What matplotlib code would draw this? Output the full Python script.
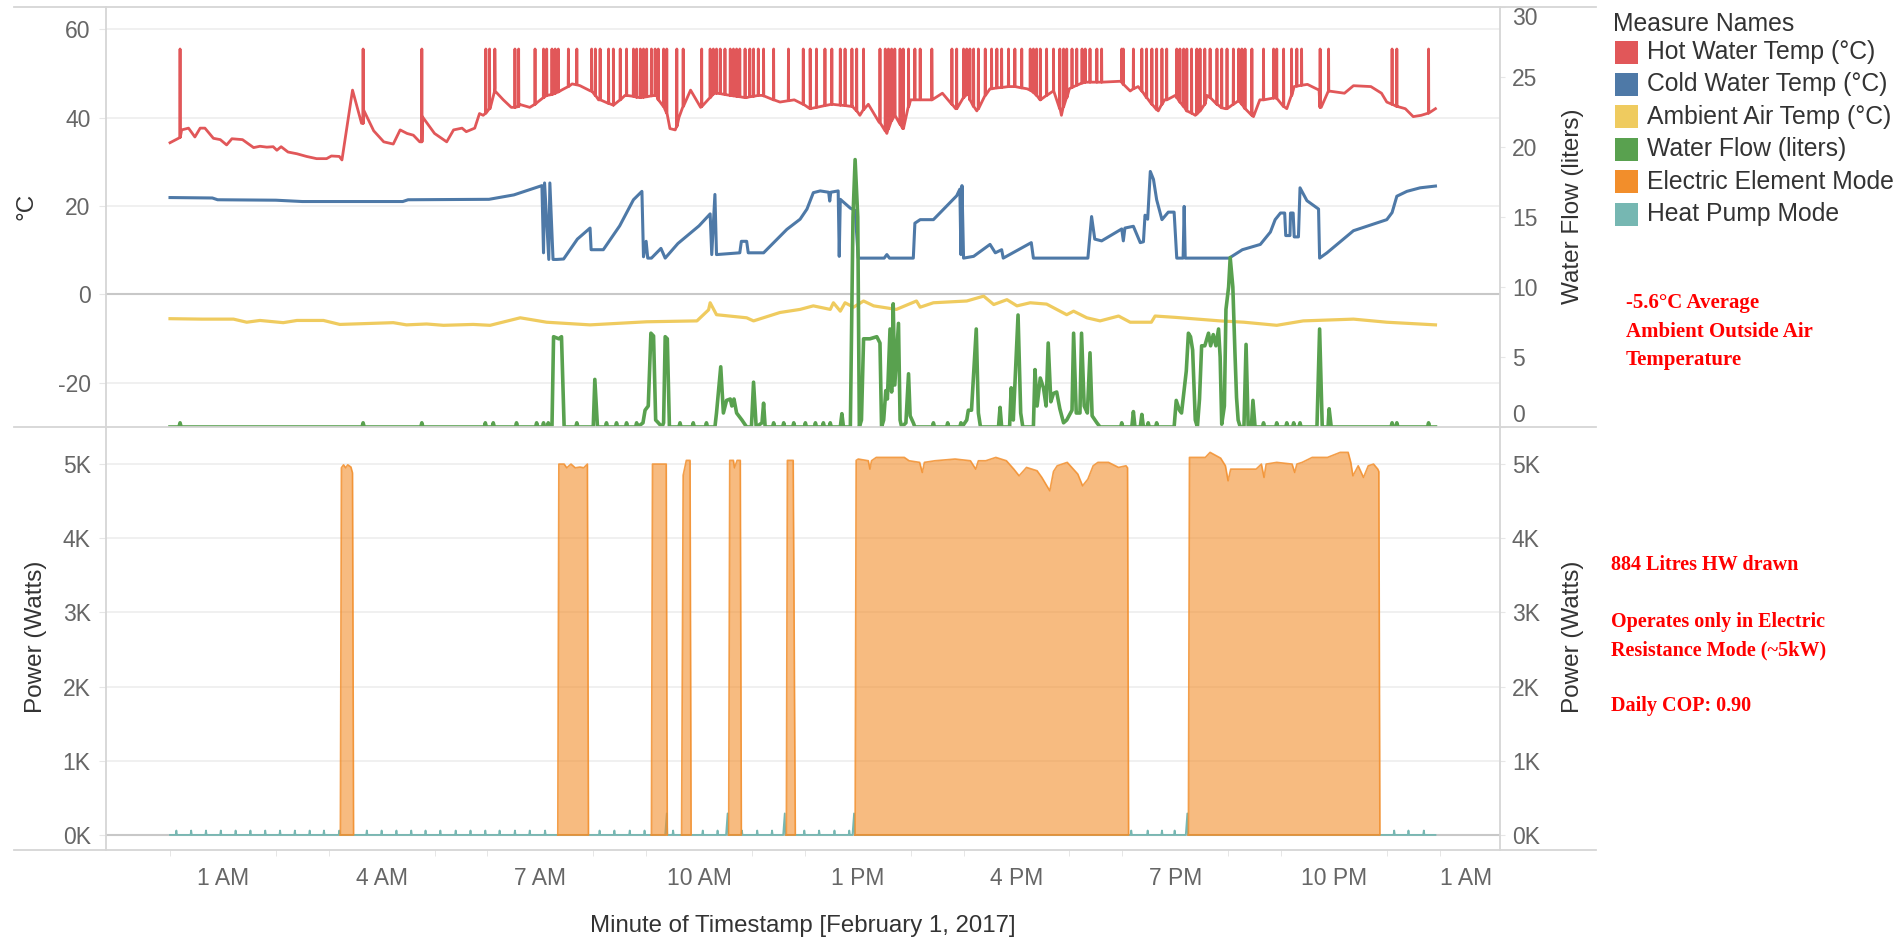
import matplotlib
matplotlib.use("Agg")
import matplotlib.pyplot as plt
from matplotlib.lines import Line2D
from matplotlib.patches import Rectangle

# Values; hours after midnight, February 1, 2017

# hot water temp (deg C), smooth part of the trace
hot_base = [
    (0.00, 34.3), (0.16, 35.3), (0.22, 37.2), (0.35, 37.6), (0.47, 35.6), (0.57, 37.6), (0.66, 37.6),
    (0.82, 35.3), (0.95, 35.0), (1.07, 33.8), (1.17, 35.2), (1.37, 35.0), (1.58, 33.2), (1.70, 33.5),
    (1.83, 33.3), (1.95, 33.4), (2.02, 32.6), (2.10, 33.4), (2.23, 32.2), (2.40, 31.8), (2.58, 31.2),
    (2.77, 30.7), (2.96, 30.7), (3.05, 31.3), (3.20, 31.2), (3.25, 30.4), (3.45, 46.2), (3.62, 38.7),
    (3.66, 41.7), (3.85, 37.0), (4.04, 34.5), (4.22, 34.0), (4.35, 37.2), (4.48, 36.4), (4.60, 36.0),
    (4.72, 34.5), (4.77, 40.2), (5.00, 36.4), (5.23, 34.5), (5.36, 37.2), (5.52, 37.6), (5.60, 36.8),
    (5.76, 37.6), (5.85, 40.9), (5.92, 40.5), (6.05, 42.0), (6.14, 46.7), (6.30, 44.0), (6.45, 42.3),
    (6.60, 43.0), (6.80, 42.3), (6.95, 43.5), (7.12, 45.0), (7.28, 45.5), (7.40, 46.2), (7.60, 47.6),
    (7.75, 47.2), (7.95, 46.0), (8.10, 44.0), (8.38, 42.8), (8.60, 45.0), (8.90, 44.5), (9.20, 45.0),
    (9.35, 42.0), (9.45, 37.5), (9.55, 37.2), (9.62, 40.0), (9.84, 46.2), (10.03, 42.3), (10.30, 45.5),
    (10.60, 45.0), (10.90, 44.5), (11.20, 45.0), (11.53, 43.5), (11.80, 44.0), (12.10, 42.0), (12.50, 43.0),
    (12.90, 42.5), (13.04, 40.5), (13.20, 43.0), (13.40, 39.0), (13.55, 36.4), (13.70, 40.5), (13.85, 37.5),
    (14.00, 44.0), (14.40, 44.0), (14.60, 45.5), (14.85, 42.0), (15.10, 45.5), (15.25, 41.5), (15.50, 46.5),
    (15.90, 47.0), (16.20, 46.5), (16.45, 44.0), (16.70, 46.0), (16.85, 40.5), (17.00, 46.5), (17.30, 48.0),
    (17.60, 48.0), (17.96, 48.2), (18.15, 46.0), (18.30, 47.0), (18.68, 41.5), (18.80, 44.0), (19.00, 45.0),
    (19.38, 40.5), (19.60, 45.0), (19.95, 42.0), (20.20, 44.0), (20.48, 40.2), (20.60, 44.0), (20.90, 44.5),
    (21.11, 42.0), (21.25, 47.0), (21.50, 47.5), (21.72, 46.2), (21.76, 42.3), (21.90, 46.0), (22.20, 45.5),
    (22.37, 47.2), (22.70, 47.0), (22.90, 45.5), (23.00, 43.5), (23.20, 42.5), (23.35, 42.0), (23.50, 40.2),
    (23.65, 40.5), (23.78, 41.0), (23.92, 42.0),
]
# hot water spikes: (hour, temp at the foot of the spike)
hot_spikes = [
    (0.19, 35.5), (3.65, 38.7), (4.76, 34.5), (5.97, 41.0), (6.04, 42.0), (6.14, 46.0), (6.52, 42.3),
    (6.59, 42.5), (6.90, 43.0), (7.06, 44.5), (7.12, 45.0), (7.22, 45.2), (7.28, 45.5), (7.34, 45.8),
    (7.53, 47.0), (7.69, 47.4), (7.97, 46.0), (8.04, 45.0), (8.13, 44.0), (8.29, 43.2), (8.38, 42.8),
    (8.51, 44.0), (8.63, 45.0), (8.76, 44.8), (8.82, 44.6), (8.89, 44.5), (8.95, 44.6), (9.01, 44.7),
    (9.10, 44.9), (9.17, 45.0), (9.23, 44.0), (9.33, 42.5), (9.39, 41.0), (9.58, 38.0), (9.70, 42.5),
    (10.05, 42.5), (10.21, 44.5), (10.27, 45.3), (10.33, 45.5), (10.40, 45.4), (10.49, 45.2), (10.59, 45.0),
    (10.65, 44.9), (10.71, 44.8), (10.77, 44.7), (10.87, 44.5), (10.96, 44.7), (11.03, 44.8), (11.12, 45.0),
    (11.22, 44.9), (11.41, 44.0), (11.69, 43.8), (11.97, 43.0), (12.10, 42.0), (12.22, 42.3), (12.38, 42.7),
    (12.51, 43.0), (12.67, 42.8), (12.76, 42.7), (12.89, 42.5), (12.98, 41.5), (13.11, 41.8), (13.42, 38.8),
    (13.52, 37.0), (13.58, 37.5), (13.64, 39.3), (13.70, 40.5), (13.80, 38.5), (13.86, 37.5), (13.96, 42.5),
    (14.08, 44.0), (14.18, 44.0), (14.40, 44.0), (14.78, 43.0), (14.87, 42.0), (15.00, 44.5), (15.06, 45.2),
    (15.12, 44.0), (15.19, 42.5), (15.28, 42.0), (15.41, 45.0), (15.53, 46.5), (15.63, 46.7), (15.72, 46.8),
    (15.85, 47.0), (15.97, 47.0), (16.10, 46.7), (16.26, 46.2), (16.32, 45.7), (16.38, 45.0), (16.45, 44.0),
    (16.57, 45.0), (16.70, 46.0), (16.82, 42.0), (16.89, 42.5), (16.95, 44.5), (17.05, 46.8), (17.14, 47.3),
    (17.24, 47.8), (17.30, 48.0), (17.39, 48.0), (17.52, 48.0), (17.61, 48.0), (17.99, 48.0), (18.02, 47.5),
    (18.21, 46.5), (18.37, 46.0), (18.46, 44.5), (18.56, 43.0), (18.65, 41.8), (18.75, 43.0), (18.84, 44.0),
    (19.03, 44.5), (19.09, 43.5), (19.16, 42.5), (19.22, 41.5), (19.31, 41.0), (19.41, 40.8), (19.47, 41.5),
    (19.56, 43.0), (19.66, 44.5), (19.79, 43.0), (19.88, 42.2), (19.98, 42.0), (20.10, 43.0), (20.20, 43.8),
    (20.26, 43.0), (20.32, 42.0), (20.45, 40.5), (20.67, 44.0), (20.86, 44.4), (20.92, 44.3), (21.05, 42.5),
    (21.20, 45.0), (21.30, 47.1), (21.39, 47.3), (21.74, 42.3), (21.90, 46.0), (23.10, 43.0), (23.19, 42.5),
    (23.79, 41.0),
]
hot_spike_top = 55.5

cold_water = [
    (0.00, 21.9), (0.80, 21.8), (0.90, 21.4), (2.00, 21.3), (2.50, 21.0), (4.40, 21.0), (4.50, 21.4),
    (6.03, 21.5), (6.50, 22.5), (7.03, 24.6), (7.06, 9.4), (7.08, 25.2), (7.16, 7.9), (7.18, 25.2),
    (7.24, 7.9), (7.31, 7.9), (7.44, 8.0), (7.70, 12.5), (7.94, 15.0), (7.96, 10.1), (8.19, 10.1),
    (8.50, 15.5), (8.76, 21.4), (8.92, 23.3), (8.95, 8.5), (9.00, 12.0), (9.03, 8.2), (9.10, 8.2),
    (9.28, 10.4), (9.36, 8.2), (9.60, 11.5), (10.00, 15.5), (10.21, 18.2), (10.24, 9.0), (10.30, 22.6),
    (10.33, 9.0), (10.77, 9.4), (10.80, 12.0), (10.90, 12.0), (10.93, 9.4), (11.22, 9.4), (11.66, 14.7),
    (11.91, 17.0), (12.04, 19.3), (12.16, 23.0), (12.29, 23.4), (12.45, 23.1), (12.47, 21.1), (12.49, 23.1),
    (12.63, 23.4), (12.65, 8.6), (12.67, 21.5), (12.86, 19.5), (12.95, 19.0), (13.01, 8.2), (13.50, 8.2),
    (13.55, 9.0), (13.60, 8.2), (14.05, 8.2), (14.08, 16.1), (14.18, 16.9), (14.43, 16.9), (14.87, 22.3),
    (14.93, 23.8), (14.95, 9.0), (14.97, 24.6), (15.00, 8.2), (15.19, 8.6), (15.50, 11.3), (15.60, 9.4),
    (15.72, 10.1), (15.75, 8.2), (16.28, 11.7), (16.32, 8.2), (17.35, 8.2), (17.42, 17.6), (17.48, 12.5),
    (17.61, 12.1), (17.99, 14.8), (18.02, 12.1), (18.05, 15.0), (18.21, 15.4), (18.34, 11.7), (18.40, 11.9),
    (18.43, 17.9), (18.48, 17.0), (18.53, 27.8), (18.59, 26.0), (18.65, 21.4), (18.75, 16.9), (18.87, 18.6),
    (18.98, 18.6), (19.03, 8.2), (19.15, 8.2), (19.17, 19.9), (19.19, 8.2), (19.85, 8.2), (20.02, 8.2),
    (20.27, 10.1), (20.61, 11.3), (20.80, 14.1), (20.89, 16.9), (20.99, 18.4), (21.07, 18.4), (21.09, 13.3),
    (21.17, 13.3), (21.18, 18.4), (21.23, 18.4), (21.25, 13.0), (21.33, 13.0), (21.36, 24.1), (21.49, 21.2),
    (21.71, 19.3), (21.73, 8.2), (21.87, 9.4), (22.37, 14.4), (23.00, 16.9), (23.10, 18.5), (23.19, 22.2),
    (23.38, 23.3), (23.63, 24.1), (23.92, 24.5),
]

ambient_air = [
    (0.00, -5.5), (0.60, -5.6), (1.20, -5.6), (1.45, -6.3), (1.70, -5.9), (2.14, -6.4), (2.40, -5.9),
    (2.90, -5.9), (3.21, -6.8), (4.22, -6.4), (4.47, -6.9), (4.85, -6.7), (5.17, -7.0), (5.73, -6.8),
    (6.05, -7.0), (6.62, -5.3), (7.12, -6.3), (7.94, -6.9), (9.01, -6.2), (9.96, -6.0), (10.18, -3.5),
    (10.21, -1.9), (10.33, -4.6), (10.90, -5.3), (11.03, -6.0), (11.53, -4.1), (11.91, -3.4), (12.16, -2.6),
    (12.48, -3.4), (12.54, -1.9), (12.67, -3.8), (12.76, -1.9), (12.92, -2.9), (13.11, -1.5), (13.30, -2.6),
    (13.73, -3.4), (14.11, -1.5), (14.18, -2.9), (14.43, -1.9), (15.06, -1.5), (15.38, -0.4), (15.57, -2.3),
    (15.82, -1.2), (16.01, -2.6), (16.26, -1.9), (16.57, -2.2), (16.95, -4.6), (17.08, -3.8), (17.33, -5.3),
    (17.58, -6.0), (17.93, -4.9), (18.15, -6.3), (18.55, -6.3), (18.62, -4.9), (19.00, -5.2), (19.85, -6.0),
    (20.30, -6.3), (20.92, -7.0), (21.42, -6.0), (22.37, -5.6), (23.00, -6.3), (23.92, -6.9),
]

# water flow (liters) draw events
water_flow = [
    (0.00, 0), (7.22, 0), (7.25, 6.45), (7.35, 6.3), (7.40, 6.45), (7.45, 0),
    (8.00, 0), (8.03, 3.4), (8.08, 0), (8.94, 0.3), (8.98, 1.2), (9.04, 1.5), (9.09, 6.7), (9.14, 6.5),
    (9.18, 0.5), (9.23, 0.3), (9.30, 0), (9.33, 0.3), (9.36, 6.45), (9.40, 6.3), (9.44, 0),
    (10.30, 0), (10.33, 1.0), (10.41, 4.3), (10.46, 1.0), (10.52, 1.9), (10.59, 2.0), (10.62, 1.5),
    (10.66, 2.0), (10.71, 1.0), (10.81, 0.5), (10.90, 0), (10.99, 0), (11.03, 3.2), (11.08, 0),
    (11.19, 0.3), (11.22, 1.7), (11.25, 0), (12.67, 0), (12.70, 0.95), (12.73, 0),
    (12.86, 0), (12.91, 15.0), (12.95, 19.1), (13.00, 15.0), (13.03, 0), (13.07, 0.5), (13.11, 6.3),
    (13.23, 6.3), (13.36, 6.45), (13.42, 6.0), (13.45, 0), (13.49, 0.5), (13.53, 2.6), (13.56, 2.0),
    (13.61, 7.0), (13.64, 2.5), (13.67, 8.8), (13.70, 3.0), (13.77, 7.4), (13.80, 0.5), (13.83, 0),
    (13.91, 0.3), (13.96, 3.8), (13.99, 0.8), (14.05, 0.3), (14.08, 0),
    (15.06, 0.5), (15.09, 1.2), (15.15, 1.2), (15.24, 7.0), (15.28, 1.0), (15.32, 0),
    (15.66, 0), (15.69, 1.4), (15.72, 0), (15.87, 0), (15.90, 2.8), (15.94, 0.5), (16.03, 8.0),
    (16.08, 1.0), (16.12, 0), (16.32, 0), (16.35, 4.1), (16.39, 1.5), (16.45, 3.5), (16.51, 2.8),
    (16.56, 1.5), (16.60, 6.0), (16.65, 1.8), (16.70, 2.4), (16.76, 2.5), (16.82, 1.3), (16.89, 0.3),
    (16.95, 0.5), (17.05, 1.2), (17.08, 6.7), (17.13, 1.0), (17.20, 1.0), (17.23, 6.7), (17.28, 1.5),
    (17.34, 1.0), (17.39, 5.3), (17.43, 0.8), (17.52, 0.3), (17.58, 0),
    (18.18, 0), (18.21, 1.1), (18.24, 0), (18.34, 0), (18.37, 0.9), (18.40, 0),
    (18.98, 0), (19.02, 1.9), (19.08, 1.2), (19.12, 1.0), (19.21, 4.0), (19.25, 6.7), (19.29, 6.45),
    (19.33, 5.5), (19.38, 0.5), (19.42, 0), (19.46, 2.0), (19.50, 5.8), (19.56, 5.8), (19.63, 6.7),
    (19.67, 5.8), (19.72, 6.6), (19.77, 5.8), (19.82, 7.0), (19.85, 5.0), (19.88, 0.2), (19.93, 1.5),
    (19.96, 8.4), (20.01, 10.0), (20.04, 12.1), (20.09, 10.0), (20.13, 5.3), (20.16, 2.1), (20.19, 0.5),
    (20.23, 0), (20.30, 0), (20.34, 5.9), (20.38, 0), (20.44, 0), (20.47, 1.9), (20.51, 0),
    (21.68, 0), (21.73, 7.0), (21.78, 0), (21.89, 0), (21.91, 1.3), (21.95, 0), (23.92, 0),
]
# tiny flow readings (hours)
flow_blips = [0.19, 3.65, 4.76, 5.96, 6.11, 6.55, 6.93, 7.06, 7.15, 7.69, 8.25, 8.44, 8.63, 8.82,
              9.64, 9.89, 10.14, 11.41, 11.60, 11.79, 12.01, 12.20, 12.35, 12.48, 14.43, 14.70,
              14.95, 17.99, 18.49, 18.65, 20.67, 20.92, 21.11, 21.24, 21.36, 23.10, 23.19, 23.79]
blip_height = 0.3

# heat pump mode (watts): small regular blips and larger ones next to element blocks
hp_small = [0.12, 0.40, 0.68, 0.96, 1.24, 1.52, 1.80, 2.08, 2.36, 2.64, 2.91, 3.20, 3.72, 4.00,
            4.28, 4.56, 4.83, 5.11, 5.40, 5.68, 5.96, 6.23, 6.52, 6.80, 7.09, 8.12, 8.40, 8.69,
            8.97, 9.51, 10.07, 10.35, 10.81, 11.10, 11.38, 11.99, 12.27, 12.56, 12.84, 18.17,
            18.48, 18.75, 18.99, 23.14, 23.41, 23.70]
hp_big = [9.39, 10.54, 11.62, 12.93, 19.23]
hp_small_w = 60
hp_big_w = 290

# electric element mode (watts), one list per on-period
element_blocks = [
    [(3.22, 0), (3.24, 4950), (3.28, 4990), (3.32, 4950), (3.36, 4990), (3.42, 4960), (3.45, 4880), (3.47, 0)],
    [(7.33, 0), (7.35, 5000), (7.45, 5000), (7.50, 4950), (7.58, 5000), (7.66, 4950), (7.75, 4960),
     (7.82, 4950), (7.89, 5000), (7.91, 0)],
    [(9.10, 0), (9.12, 5000), (9.38, 5000), (9.40, 0)],
    [(9.67, 0), (9.70, 4850), (9.76, 5050), (9.83, 5050), (9.85, 0)],
    [(10.56, 0), (10.58, 5050), (10.65, 5050), (10.67, 4950), (10.72, 5050), (10.78, 5050), (10.80, 0)],
    [(11.65, 0), (11.67, 5050), (11.78, 5050), (11.82, 0)],
    [(12.95, 0), (12.97, 5050), (13.01, 5068), (13.20, 5045), (13.23, 4932), (13.26, 5045), (13.35, 5090),
     (13.88, 5090), (13.97, 5045), (14.17, 5023), (14.22, 4887), (14.26, 5023), (14.46, 5045), (14.84, 5068),
     (15.13, 5045), (15.23, 4932), (15.28, 5045), (15.42, 5045), (15.61, 5090), (15.81, 5045), (15.95, 4932),
     (16.05, 4842), (16.19, 4955), (16.39, 4910), (16.48, 4820), (16.63, 4640), (16.70, 4900), (16.77, 4977),
     (16.96, 5023), (17.16, 4865), (17.25, 4707), (17.35, 4797), (17.45, 4977), (17.54, 5023), (17.74, 5023),
     (17.93, 4955), (18.07, 4977), (18.10, 4950), (18.12, 0)],
    [(19.25, 0), (19.27, 5090), (19.57, 5090), (19.66, 5158), (19.86, 5080), (19.95, 4977), (20.00, 4775),
     (20.05, 4932), (20.24, 4932), (20.53, 4932), (20.63, 5000), (20.68, 4820), (20.72, 5000), (20.92, 5023),
     (21.21, 5000), (21.26, 4887), (21.30, 5000), (21.40, 5023), (21.59, 5090), (21.88, 5090), (22.12, 5158),
     (22.27, 5158), (22.32, 5023), (22.36, 4842), (22.46, 4977), (22.56, 4820), (22.65, 4977), (22.75, 5000),
     (22.83, 4932), (22.85, 4900), (22.87, 0)],
]

x_ticks = [1, 4, 7, 10, 13, 16, 19, 22, 25]
x_labels = ["1 AM", "4 AM", "7 AM", "10 AM", "1 PM", "4 PM", "7 PM", "10 PM", "1 AM"]
temp_ticks = [-20, 0, 20, 40, 60]
flow_ticks = [0, 5, 10, 15, 20, 25, 30]
power_ticks = [0, 1000, 2000, 3000, 4000, 5000]
power_labels = ["0K", "1K", "2K", "3K", "4K", "5K"]

legend_names = ["Hot Water Temp (°C)", "Cold Water Temp (°C)", "Ambient Air Temp (°C)",
                "Water Flow (liters)", "Electric Element Mode", "Heat Pump Mode"]
legend_colors = ["#E15759", "#4E79A7", "#EFCB5F", "#59A14F", "#F28E2B", "#76B7B2"]
hot_c, cold_c, amb_c, flow_c, elec_c, hp_c = legend_colors

plt.rcParams["font.family"] = ["Liberation Sans", "DejaVu Sans"]

W, H = 1903, 941
fig = plt.figure(figsize=(W / 100, H / 100), dpi=100)


def fx(px):
    return px / W


def fy(py):
    return 1 - py / H


left, right, top, mid, bottom = 106, 1500, 7, 427, 850
ax_t = fig.add_axes([fx(left), fy(mid), (right - left) / W, (mid - top) / H])
ax_b = fig.add_axes([fx(left), fy(bottom), (right - left) / W, (bottom - mid) / H])
ax_f = ax_t.twinx()
ax_p = ax_b.twinx()

tick_col = "#666666"
text_col = "#333333"
grid_col = "#EEEEEE"
zero_col = "#C8C8C8"
border_col = "#D6D6D6"

# ---- top panel: temperatures ----
hb = list(hot_base)
for t, foot in hot_spikes:
    hb += [(t - 0.004, foot), (t, hot_spike_top), (t + 0.004, foot)]
hb.sort()
ax_t.plot([p[0] for p in hb], [p[1] for p in hb], color=hot_c, lw=2.0)
ax_t.plot([p[0] for p in cold_water], [p[1] for p in cold_water], color=cold_c, lw=2.2)
ax_t.plot([p[0] for p in ambient_air], [p[1] for p in ambient_air], color=amb_c, lw=2.3)

fl = list(water_flow)
for t in flow_blips:
    fl += [(t - 0.02, 0), (t, blip_height), (t + 0.02, 0)]
fl.sort()
ax_f.plot([p[0] for p in fl], [p[1] for p in fl], color=flow_c, lw=2.6, solid_joinstyle="round")

ax_t.set_ylim(-30, 65)
ax_f.set_ylim(0, 30)
ax_t.set_xlim(-1.21, 25.14)
ax_t.set_yticks(temp_ticks, [str(v) for v in temp_ticks])
ax_t.set_xticks([])
ax_t.yaxis.grid(True, color=grid_col, lw=1.2)
ax_t.axhline(0, color=zero_col, lw=1.5, zorder=1)
ax_t.tick_params(axis="y", labelsize=16.5, labelcolor=tick_col, length=5, color="#E6E6E6", pad=6)

ax_f.set_yticks(flow_ticks, [str(v) for v in flow_ticks])
ax_f.tick_params(axis="y", labelsize=16.5, labelcolor=tick_col, length=3.5, color="#E6E6E6", pad=5)
flabs = ax_f.get_yticklabels()
flabs[0].set_va("bottom")
flabs[-1].set_va("top")

# ---- bottom panel: power ----
hp = [(0.0, 0), (23.92, 0)]
for t in hp_small:
    hp += [(t - 0.012, 0), (t, hp_small_w), (t + 0.012, 0)]
for t in hp_big:
    hp += [(t - 0.03, 0), (t, hp_big_w), (t + 0.01, 0)]
hp.sort()
ax_b.plot([p[0] for p in hp], [p[1] for p in hp], color=hp_c, lw=1.3, zorder=3)

for blk in element_blocks:
    bx = [p[0] for p in blk]
    by = [p[1] for p in blk]
    ax_b.fill_between(bx, by, 0, color=elec_c, alpha=0.6, lw=0, zorder=4)
    ax_b.plot(bx + [bx[0]], by + [0], color=elec_c, lw=1.2, alpha=0.85, zorder=5)

ax_b.set_ylim(-203, 5500)
ax_p.set_ylim(-203, 5500)
ax_b.set_xlim(-1.21, 25.14)
ax_b.set_yticks(power_ticks, power_labels)
ax_p.set_yticks(power_ticks, power_labels)
ax_b.yaxis.grid(True, color=grid_col, lw=1.2)
ax_b.axhline(0, color=zero_col, lw=1.5, zorder=1)
ax_b.tick_params(axis="y", labelsize=16.5, labelcolor=tick_col, length=5, color="#E6E6E6", pad=6)
ax_p.tick_params(axis="y", labelsize=16.5, labelcolor=tick_col, length=3.5, color="#E6E6E6", pad=5)

ax_b.set_xticks(x_ticks, x_labels)
ax_b.set_xticks(range(0, 26), minor=True)
ax_b.tick_params(axis="x", which="major", labelsize=16.5, labelcolor=tick_col, length=0, pad=12)
ax_b.tick_params(axis="x", which="minor", length=4, color="#E2E2E2")
ax_b.get_xticklabels()[-1].set_ha("right")

for a in (ax_t, ax_b, ax_f, ax_p):
    for s in a.spines.values():
        s.set_visible(False)
    a.set_axisbelow(True)

# panel borders
for yy in (top, mid, bottom):
    fig.add_artist(Line2D([fx(14), fx(1596)], [fy(yy), fy(yy)], color=border_col, lw=1.3))
for xx in (left, right):
    fig.add_artist(Line2D([fx(xx), fx(xx)], [fy(top), fy(bottom)], color=border_col, lw=1.3))

# axis titles
fig.text(fx(27), fy(206), "°C", rotation=90, ha="center", va="center", fontsize=17.5, color=text_col)
fig.text(fx(36), fy(637), "Power (Watts)", rotation=90, ha="center", va="center", fontsize=17.5,
         color=text_col)
fig.text(fx(1573), fy(206), "Water Flow (liters)", rotation=90, ha="center", va="center",
         fontsize=17.5, color=text_col)
fig.text(fx(1573), fy(637), "Power (Watts)", rotation=90, ha="center", va="center", fontsize=17.5,
         color=text_col)
fig.text(fx(803), fy(926), "Minute of Timestamp [February 1, 2017]", ha="center", va="center",
         fontsize=17.3, color=text_col)

# legend
fig.text(fx(1613), fy(24), "Measure Names", ha="left", va="center", fontsize=17.8, color=text_col)
for i, (name, col) in enumerate(zip(legend_names, legend_colors)):
    yc = 52 + i * 32.4
    fig.add_artist(Rectangle((fx(1615), fy(yc + 11.5)), 23 / W, 23 / H, color=col, lw=0))
    fig.text(fx(1647), fy(yc), name, ha="left", va="center", fontsize=17.8, color=text_col)

# notes
note_font = dict(family=["Liberation Serif", "DejaVu Serif"], weight="bold",
                 color="#FF0000", ha="left", va="center")
for yy, line in zip((303, 332, 360), ("-5.6°C Average", "Ambient Outside Air", "Temperature")):
    fig.text(fx(1626), fy(yy), line, fontsize=15, **note_font)
for yy, line in zip((565, 622, 650, 706), ("884 Litres HW drawn", "Operates only in Electric",
                                          "Resistance Mode (~5kW)", "Daily COP: 0.90")):
    fig.text(fx(1611), fy(yy), line, fontsize=14.5, **note_font)

fig.savefig("out.png", dpi=100)
